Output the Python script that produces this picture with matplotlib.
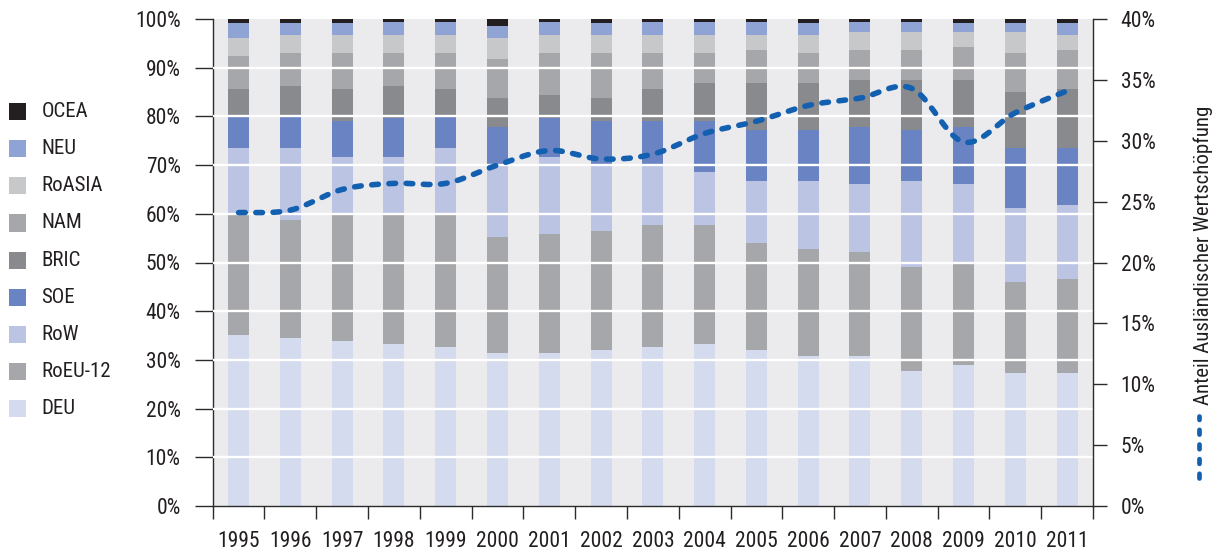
import numpy as np
import matplotlib
matplotlib.use("Agg")
import matplotlib.pyplot as plt
from matplotlib import font_manager as fm
from matplotlib.patches import Rectangle
from matplotlib.lines import Line2D
from matplotlib.ticker import FuncFormatter, FixedLocator

# prefer a narrow sans face if one is installed
_installed = {f.name for f in fm.fontManager.ttflist}
_condensed = sorted({f.name for f in fm.fontManager.ttflist
                     if str(f.stretch) in ('condensed', 'semi-condensed', 'extra-condensed', '75', '87.5')})
_preferred = ['Liberation Sans Narrow', 'Roboto Condensed', 'Open Sans Condensed',
              'Noto Sans Condensed', 'DejaVu Sans Condensed', 'Arial Narrow']
_family = [n for n in _preferred if n in _installed] + _condensed + ['Liberation Sans', 'DejaVu Sans']
plt.rcParams['font.family'] = _family
NARROW = _family[0] not in ('Liberation Sans', 'DejaVu Sans')

# ---- data -------------------------------------------------------------
years = [str(y) for y in range(1995, 2012)]

# shares of value added by origin (%), stacked bottom -> top
DEU    = [35.1, 34.5, 33.9, 33.3, 32.6, 31.4, 31.4, 32.0, 32.6, 33.3, 32.0, 30.8, 30.8, 27.7, 29.0, 27.3, 27.3]
RoEU12 = [24.7, 24.2, 25.9, 26.9, 27.2, 23.8, 24.5, 24.5, 25.1, 24.4, 22.0, 22.0, 21.4, 21.4, 21.0, 18.7, 19.3]
RoW    = [13.7, 14.8, 11.9, 11.5, 13.7, 15.0, 15.8, 13.4, 12.2, 10.9, 12.7, 13.9, 13.9, 17.6, 16.1, 15.2, 15.2]
SOE    = [6.5, 6.5, 7.4, 8.0, 6.5, 7.6, 8.0, 9.2, 9.2, 10.5, 10.5, 10.5, 11.7, 10.5, 11.7, 12.3, 11.7]
BRIC   = [5.6, 6.2, 6.5, 6.5, 5.6, 6.0, 4.7, 4.7, 6.5, 7.8, 9.7, 9.7, 9.7, 10.3, 9.7, 11.5, 12.1]
NAM    = [6.9, 6.8, 7.4, 6.8, 7.4, 8.0, 8.6, 9.2, 7.4, 6.1, 6.7, 6.1, 6.1, 6.1, 6.8, 8.0, 8.0]
RoASIA = [3.6, 3.7, 3.7, 3.7, 3.7, 4.3, 3.7, 3.7, 3.7, 3.7, 3.1, 3.7, 3.7, 3.7, 3.0, 4.3, 3.1]
NEU    = [3.1, 2.5, 2.5, 2.7, 2.7, 2.5, 2.7, 2.5, 2.7, 2.7, 2.7, 2.5, 2.1, 2.1, 1.9, 1.9, 2.5]
OCEA   = [0.8, 0.8, 0.8, 0.6, 0.6, 1.4, 0.6, 0.8, 0.6, 0.6, 0.6, 0.8, 0.6, 0.6, 0.8, 0.8, 0.8]

series_names = ['DEU', 'RoEU-12', 'RoW', 'SOE', 'BRIC', 'NAM', 'RoASIA', 'NEU', 'OCEA']
series_values = [DEU, RoEU12, RoW, SOE, BRIC, NAM, RoASIA, NEU, OCEA]
series_colors = ['#d5dbee', '#a6a7aa', '#bcc4e3', '#6a83c2', '#898a8e',
                 '#a6a7aa', '#c7c8ca', '#8fa3d4', '#231f20']

# foreign value-added share (%), right axis
foreign_share = [24.1, 24.3, 26.0, 26.5, 26.5, 28.0, 29.2, 28.5, 28.9, 30.6, 31.6,
                 32.9, 33.5, 34.3, 29.9, 32.3, 34.1]

# ---- helpers ----------------------------------------------------------
def smooth_curve(xs, ys, n=24):
    """Cubic Bezier smoothing through every point (Catmull-Rom style)."""
    pts = np.column_stack([xs, ys]).astype(float)
    P = np.vstack([pts[0], pts, pts[-1]])
    out = []
    t = np.linspace(0, 1, n, endpoint=False)[:, None]
    for i in range(1, len(P) - 2):
        p0, p1, p2, p3 = P[i - 1], P[i], P[i + 1], P[i + 2]
        c1 = p1 + (p2 - p0) / 6.0
        c2 = p2 - (p3 - p1) / 6.0
        seg = ((1 - t) ** 3) * p1 + 3 * ((1 - t) ** 2) * t * c1 + 3 * (1 - t) * (t ** 2) * c2 + (t ** 3) * p2
        out.append(seg)
    out.append(pts[-1:])
    c = np.vstack(out)
    return c[:, 0], c[:, 1]

# ---- figure -----------------------------------------------------------
W, H = 1221, 553
fig = plt.figure(figsize=(W / 100, H / 100), dpi=100)
fig.patch.set_facecolor('white')

left, right, top, bottom = 212.7, 1093.0, 19.0, 506.0
ax = fig.add_axes([left / W, 1 - bottom / H, (right - left) / W, (bottom - top) / H])
ax.set_facecolor('#ebebee')

text_color = '#231f20'
spine_color = '#2b2b2b'
fs = 15.5 if NARROW else 13
lfs = 15 if NARROW else 12.5

x = np.arange(len(years))
base = np.zeros(len(years))
for name, vals, col in zip(series_names, series_values, series_colors):
    ax.bar(x, vals, width=0.405, bottom=base, color=col, linewidth=0, zorder=2, label=name)
    base = base + np.array(vals)

for g in range(10, 100, 10):
    ax.axhline(g, color='white', lw=1.7, zorder=3)

ax.set_xlim(-0.5, len(years) - 0.5)
ax.set_ylim(0, 100)

ax.xaxis.set_major_locator(FixedLocator(np.arange(-0.5, len(years), 1.0)))
ax.xaxis.set_minor_locator(FixedLocator(x))
ax.set_xticklabels([])
ax.set_xticklabels(years, minor=True)
ax.tick_params(axis='x', which='major', length=9.5, width=1, color=spine_color, direction='out')
ax.tick_params(axis='x', which='minor', length=0, pad=18, labelsize=fs, labelcolor=text_color)

ax.set_yticks(np.arange(0, 101, 10))
ax.yaxis.set_major_formatter(FuncFormatter(lambda v, p: f"{v:.0f}%"))
ax.tick_params(axis='y', length=13, width=1, color=spine_color, pad=10,
               labelsize=fs, labelcolor=text_color)

for s in ['top', 'right']:
    ax.spines[s].set_visible(False)
for s in ['left', 'bottom']:
    ax.spines[s].set_color(spine_color)
    ax.spines[s].set_linewidth(1.0)

# right axis with foreign value-added share
ax2 = ax.twinx()
ax2.set_ylim(0, 40)
ax2.set_yticks(np.arange(0, 41, 5))
ax2.yaxis.set_major_formatter(FuncFormatter(lambda v, p: f"{v:.0f}%"))
ax2.tick_params(axis='y', length=10, width=1, color=spine_color, pad=10,
                labelsize=fs, labelcolor=text_color)
for s in ['top', 'left', 'bottom']:
    ax2.spines[s].set_visible(False)
ax2.spines['right'].set_color(spine_color)
ax2.spines['right'].set_linewidth(1.0)

line_color = '#135fb0'
sx, sy = smooth_curve(x, foreign_share)
ax2.plot(sx, sy, color=line_color, lw=4.0, dashes=(1.2, 1.9),
         dash_capstyle='round', zorder=5)

# right-hand series label with its line sample
fig.text(1203 / W, 1 - 255 / H, 'Anteil Ausländischer Wertschöpfung', rotation=90,
         ha='center', va='center', fontsize=lfs, color=text_color)
fig.add_artist(Line2D([1199 / W, 1199 / W], [1 - 478 / H, 1 - 416 / H],
                      transform=fig.transFigure, color=line_color, lw=3.4,
                      dashes=(1.0, 2.1), dash_capstyle='round'))

# legend for the stacked series (top entry = top of stack)
row_y0, row_step = 111.7, 37.1
for i, (name, col) in enumerate(zip(series_names[::-1], series_colors[::-1])):
    cy = row_y0 + i * row_step
    fig.add_artist(Rectangle((9 / W, 1 - (cy + 8.5) / H), 17 / W, 17 / H,
                             transform=fig.transFigure, facecolor=col, edgecolor='none'))
    fig.text(41.5 / W, 1 - cy / H, name, ha='left', va='center',
             fontsize=lfs, color=text_color)

fig.savefig('out.png', dpi=100)
